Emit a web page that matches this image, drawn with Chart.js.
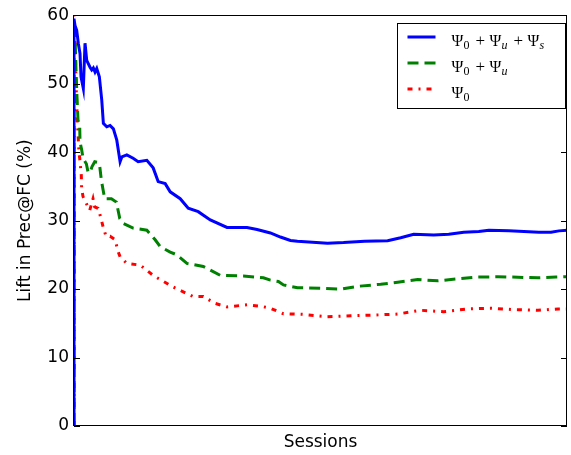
<!DOCTYPE html>
<html>
<head>
<meta charset="utf-8">
<script src="https://cdn.jsdelivr.net/npm/chart.js@4/dist/chart.umd.min.js"></script>
<style>
  html, body { margin: 0; padding: 0; background: #fff; }
  #wrap { width: 571px; height: 455px; position: relative; }
</style>
</head>
<body>
<div id="wrap"><canvas id="chart" width="571" height="455"></canvas></div>
<script>
// sessions (x) and lift values (y)
const fullX = [0, 0, 1, 2.7, 4.3, 6, 7, 9.3, 11, 12.7, 14, 16, 17.7, 19.3, 21, 22.7, 25.3, 27.7, 29.3, 32.7, 36, 39.3, 42.7, 46, 47.7, 52.7, 59, 64, 72.7, 79, 84, 91, 96, 106, 114, 124, 136, 152.7, 172.7, 182.7, 196, 206, 216, 223, 253, 269, 290, 313, 326, 339, 359, 374, 389, 404, 414, 434, 449, 464, 476, 484, 492];
const fullY = [0, 59.5, 58.5, 57.8, 55.9, 54.4, 51, 49.3, 55.9, 53.4, 53, 52.4, 52, 52.3, 51.7, 52.2, 51, 47.6, 44.2, 43.7, 43.9, 43.4, 41.75, 38.6, 39.3, 39.6, 39.1, 38.6, 38.8, 37.7, 35.7, 35.4, 34.2, 33.2, 31.8, 31.3, 30.1, 29.0, 29.0, 28.7, 28.2, 27.6, 27.1, 27.0, 26.7, 26.8, 27.0, 27.05, 27.5, 28.0, 27.9, 28.0, 28.3, 28.4, 28.6, 28.5, 28.4, 28.3, 28.3, 28.5, 28.6];

const userX = [0, 0, 1, 2, 3, 4, 5.7, 6, 7.7, 9, 12.3, 14, 16, 18, 20.7, 24, 25.7, 27.3, 29, 30.7, 37.3, 42.3, 45.7, 49, 59, 72.7, 81, 86, 96, 102.7, 112.7, 129, 146, 169, 189, 196, 204, 209, 223, 246, 266, 283, 306, 323, 343, 363, 383, 403, 423, 463, 481, 492];
const userY = [0, 59, 57, 52, 48, 44.7, 43.7, 41.5, 40.3, 39.1, 38.3, 37.1, 37.0, 37.9, 38.6, 38.5, 37.9, 35.9, 34.5, 33.2, 33.2, 32.7, 30.3, 29.6, 28.9, 28.6, 27.2, 26.2, 25.4, 25.0, 23.75, 23.3, 22.0, 21.9, 21.65, 21.3, 21.1, 20.6, 20.2, 20.1, 20.0, 20.4, 20.7, 21.0, 21.4, 21.2, 21.5, 21.75, 21.8, 21.65, 21.75, 21.8];

const baseX = [0, 0, 1, 2, 3, 4, 5, 5.7, 7.3, 7.6, 9, 10.7, 14, 15.7, 19, 20.7, 24, 25.7, 27.3, 29, 32, 36, 41, 44, 46, 52.7, 66, 79, 99, 119, 129, 141, 152.7, 172.7, 186, 196, 209, 229, 253, 276, 299, 323, 346, 369, 393, 416, 439, 463, 483, 492];
const baseY = [0, 60, 57, 50, 46, 42.7, 39.8, 39.1, 36.6, 34.7, 33.5, 33, 32, 31.5, 33.2, 32.0, 31.8, 31.0, 30.1, 29.1, 27.7, 27.7, 27.2, 25.5, 24.7, 23.75, 23.5, 22.0, 20.3, 18.9, 18.9, 17.9, 17.4, 17.7, 17.5, 17.2, 16.4, 16.3, 15.95, 16.1, 16.2, 16.35, 16.9, 16.7, 17.1, 17.2, 17.0, 16.9, 17.1, 17.1];

const yTicks = [0, 10, 20, 30, 40, 50, 60];

function toPoints(xs, ys) {
    return xs.map((x, i) => ({ x: x, y: ys[i] }));
}

const FONT = "'DejaVu Sans', sans-serif";
const SERIF = "'Liberation Serif', serif";

const legendRows = [
    { color: '#0000ff', dash: [], subs: [['0', false], ['u', true], ['s', true]] },
    { color: '#008000', dash: [11, 6], subs: [['0', false], ['u', true]] },
    { color: '#ff0000', dash: [5, 6, 2, 6], subs: [['0', false]] }
];

const framePlugin = {
    id: 'frame',
    afterDraw(chart) {
        const ctx = chart.ctx;
        const a = chart.chartArea;
        const ys = chart.scales.y;
        ctx.save();
        ctx.strokeStyle = '#000';
        ctx.lineWidth = 1;
        ctx.strokeRect(Math.round(a.left) - 0.5, Math.round(a.top) + 0.5, Math.round(a.right - a.left), Math.round(a.bottom - a.top) - 1);
        // inward tick marks on left and right
        yTicks.forEach(v => {
            const py = Math.round(ys.getPixelForValue(v)) + 0.5;
            ctx.beginPath();
            ctx.moveTo(a.left, py); ctx.lineTo(a.left + 6, py);
            ctx.moveTo(a.right, py); ctx.lineTo(a.right - 6, py);
            ctx.stroke();
        });

        // legend box
        const bx = Math.round(a.right) - 169.5, by = Math.round(a.top) + 8.5;
        ctx.fillStyle = '#fff';
        ctx.fillRect(bx, by, 168, 85);
        ctx.strokeRect(bx, by, 168, 85);
        legendRows.forEach((row, i) => {
            const ly = by + 13.5 + i * 26;
            ctx.save();
            ctx.strokeStyle = row.color;
            ctx.lineWidth = 3;
            ctx.setLineDash(row.dash);
            ctx.beginPath();
            ctx.moveTo(bx + 10, ly);
            ctx.lineTo(bx + 38, ly);
            ctx.stroke();
            ctx.restore();

            ctx.fillStyle = '#000';
            ctx.textBaseline = 'alphabetic';
            row.subs.forEach((s, j) => {
                const tx = bx + 54 + j * 38;
                if (j > 0) {
                    ctx.font = '17px ' + SERIF;
                    ctx.fillText('+', tx - 14, ly + 9);
                }
                ctx.font = '16px ' + SERIF;
                ctx.fillText('\u03A8', tx, ly + 9);
                ctx.font = (s[1] ? 'italic ' : '') + '12px ' + SERIF;
                ctx.fillText(s[0], tx + 12, ly + 12);
            });
        });
        ctx.restore();
    }
};

new Chart(document.getElementById('chart'), {
    type: 'line',
    data: {
        datasets: [
            { label: 'full', data: toPoints(fullX, fullY), borderColor: '#0000ff', borderWidth: 3 },
            { label: 'user', data: toPoints(userX, userY), borderColor: '#008000', borderWidth: 3, borderDash: [11, 6] },
            { label: 'base', data: toPoints(baseX, baseY), borderColor: '#ff0000', borderWidth: 3, borderDash: [5, 6, 2, 6] }
        ]
    },
    options: {
        responsive: false,
        animation: false,
        layout: { padding: { top: 15, right: 4, left: 0, bottom: 0 } },
        elements: { point: { radius: 0 }, line: { tension: 0, fill: false } },
        plugins: { legend: { display: false }, tooltip: { enabled: false } },
        scales: {
            x: {
                type: 'linear',
                min: 0,
                max: 492,
                grid: { display: false, drawTicks: false },
                border: { display: false },
                ticks: { display: false },
                title: { display: true, text: 'Sessions', color: '#000', font: { family: FONT, size: 17 }, padding: { top: 0, bottom: 2 } },
                afterFit(scale) { scale.height = 29; }
            },
            y: {
                min: 0,
                max: 60,
                grid: { display: false, drawTicks: false },
                border: { display: false },
                afterBuildTicks(scale) { scale.ticks = yTicks.map(v => ({ value: v })); },
                ticks: { color: '#000', font: { family: FONT, size: 17 }, padding: 5 },
                title: { display: true, text: 'Lift in Prec@FC (%)', color: '#000', font: { family: FONT, size: 17 }, padding: { top: 15, bottom: 4 } },
                afterFit(scale) { scale.width = 74; }
            }
        }
    },
    plugins: [framePlugin]
});
</script>
</body>
</html>
